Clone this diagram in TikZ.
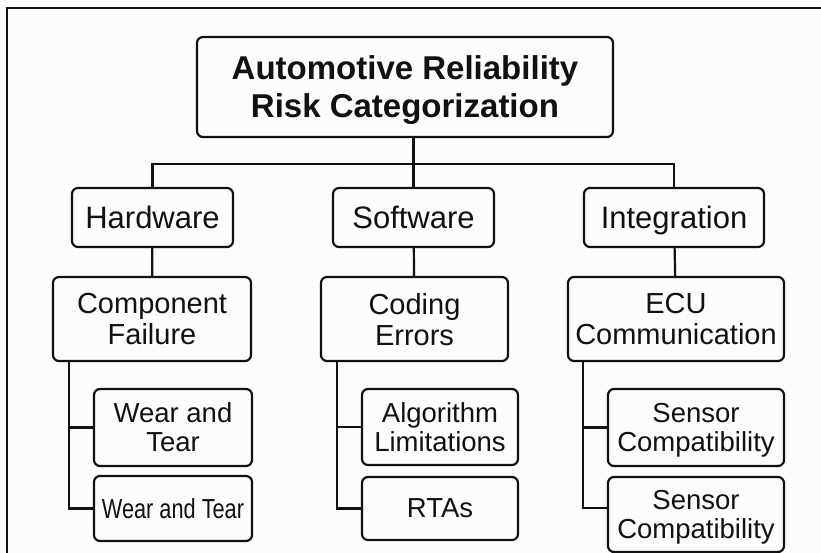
\documentclass[tikz,border=0pt]{standalone}
\usepackage{fontspec}
\setmainfont{Liberation Sans}
\definecolor{paper}{HTML}{FCFCFC}
\definecolor{ink}{HTML}{111111}
\begin{document}
\begin{tikzpicture}[x=1pt,y=-1pt,
  box/.style={draw=ink, line width=2.2pt, rounded corners=6pt, fill=paper,
    align=center, inner sep=0pt, text depth=0pt, text=ink},
  titlebox/.style={box, font=\fontsize{33}{38}\selectfont\bfseries},
  lvlone/.style={box, font=\fontsize{31}{36}\selectfont},
  lvltwo/.style={box, font=\fontsize{29}{31}\selectfont},
  lvlthree/.style={box, font=\fontsize{27.5}{29}\selectfont},
  link/.style={draw=ink, line width=2.2pt}]

% canvas and outer frame
\fill[paper] (0,0) rectangle (821,553);
\useasboundingbox (0,0) rectangle (821,553);
\draw[ink, line width=2.4pt] (7,553) -- (7,8) -- (821,8);

% root
\node[titlebox, minimum width=416pt, minimum height=100pt] (title) at (405,87)
  {Automotive Reliability\\Risk Categorization};

% categories
\node[lvlone, minimum width=161pt, minimum height=59pt] (hw) at (152.5,217.5) {Hardware};
\node[lvlone, minimum width=161pt, minimum height=59pt] (sw) at (413.5,217.5) {Software};
\node[lvlone, minimum width=180pt, minimum height=59pt] (int) at (674,217.5) {Integration};

% main risks
\node[lvltwo, minimum width=198pt, minimum height=84pt] (cf) at (152,319) {Component\\Failure};
\node[lvltwo, minimum width=187pt, minimum height=84pt] (ce) at (414.5,319) {Coding\\Errors};
\node[lvltwo, minimum width=216pt, minimum height=84pt] (ecu) at (676,319) {ECU\\Communication};

% sub-risks
\node[lvlthree, minimum width=158pt, minimum height=77pt] (w1) at (173,427.5) {Wear and\\Tear};
\node[lvlthree, minimum width=158pt, minimum height=65pt] (w2) at (173,508.5)
  {\scalebox{0.79}[1]{Wear and Tear}};
\node[lvlthree, minimum width=156pt, minimum height=76pt] (al) at (440,427) {Algorithm\\Limitations};
\node[lvlthree, minimum width=156pt, minimum height=63pt] (rt) at (440,508.5) {RTAs};
\node[lvlthree, minimum width=176pt, minimum height=77pt] (s1) at (696,427.5) {Sensor\\Compatibility};
\node[lvlthree, minimum width=176pt, minimum height=75pt] (s2) at (696,514.5) {Sensor\\Compatibility};

% tree connectors
\coordinate (j) at (413.5,164);
\draw[link] (title.south -| j) -- (j);
\draw[link] (hw.north) |- (j) -| (int.north);
\draw[link] (j) -- (sw.north);

\draw[link] (hw) -- (cf);
\draw[link] (sw) -- (ce);
\draw[link] (int) -- (ecu);

\draw[link] ([xshift=17pt]cf.south west) |- (w1.west);
\draw[link] ([xshift=17pt]cf.south west) |- (w2.west);
\draw[link] ([xshift=17pt]ce.south west) |- (al.west);
\draw[link] ([xshift=17pt]ce.south west) |- (rt.west);
\draw[link] ([xshift=16pt]ecu.south west) |- (s1.west);
\draw[link] ([xshift=16pt]ecu.south west) |- ([yshift=6.5pt]s2.west);
\end{tikzpicture}
\end{document}
